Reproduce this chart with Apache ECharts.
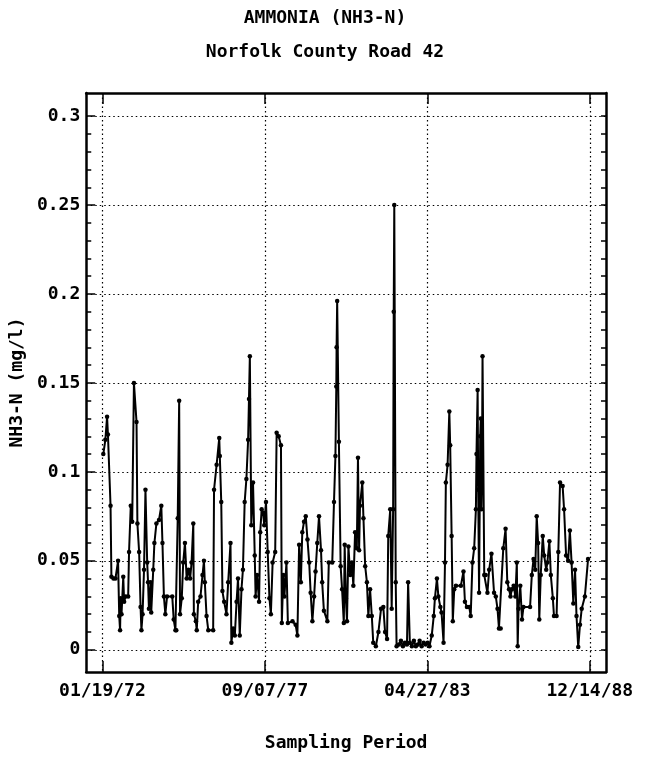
<!DOCTYPE html>
<html>
<head>
<meta charset="utf-8">
<title>AMMONIA (NH3-N)</title>
<script src="https://cdn.jsdelivr.net/npm/echarts@6/dist/echarts.min.js"></script>
<style>
  html, body { margin: 0; padding: 0; background: #fff; }
  #chart { width: 650px; height: 757px; }
</style>
</head>
<body>
<div id="chart"></div>
<script>
// sample dates as decimal years
const sampleYears = [
  1972.08, 1972.15, 1972.21, 1972.24, 1972.33, 1972.36, 1972.43, 1972.50, 1972.59, 1972.63,
  1972.66, 1972.68, 1972.71, 1972.77, 1972.80, 1972.85, 1972.94, 1972.97, 1973.03, 1973.08,
  1973.14, 1973.23, 1973.26, 1973.32, 1973.37, 1973.40, 1973.44, 1973.49, 1973.54, 1973.60,
  1973.63, 1973.66, 1973.72, 1973.74, 1973.81, 1973.85, 1973.92, 1974.01, 1974.09, 1974.13,
  1974.18, 1974.23, 1974.29, 1974.47, 1974.52, 1974.58, 1974.61, 1974.66, 1974.71,
  1974.74, 1974.80, 1974.85, 1974.91, 1974.97, 1975.03, 1975.09, 1975.14, 1975.20, 1975.22,
  1975.29, 1975.32, 1975.37, 1975.45, 1975.52, 1975.57, 1975.60, 1975.66, 1975.72, 1975.89,
  1975.92, 1976.01, 1976.10, 1976.12, 1976.17, 1976.21, 1976.27, 1976.35, 1976.41, 1976.49,
  1976.52, 1976.58, 1976.64, 1976.70, 1976.75, 1976.81, 1976.87, 1976.92, 1976.98, 1977.04,
  1977.10, 1977.13, 1977.16, 1977.21, 1977.27, 1977.33, 1977.36, 1977.41, 1977.48, 1977.52,
  1977.57,
  1977.62, 1977.66, 1977.72, 1977.78, 1977.84, 1977.89, 1977.95, 1978.04, 1978.09, 1978.16,
  1978.24, 1978.27, 1978.32, 1978.36, 1978.43, 1978.48, 1978.64, 1978.75, 1978.81, 1978.87,
  1978.93, 1978.98, 1979.04, 1979.10, 1979.16, 1979.22, 1979.27, 1979.33, 1979.39, 1979.44,
  1979.50, 1979.56, 1979.63, 1979.67, 1979.73, 1979.85, 1979.90, 1980.02, 1980.08, 1980.13,
  1980.16, 1980.17, 1980.19, 1980.25, 1980.31, 1980.36, 1980.42,
  1980.45, 1980.49, 1980.53, 1980.58, 1980.64, 1980.70, 1980.75, 1980.81, 1980.87, 1980.91,
  1980.95, 1980.98, 1981.06, 1981.10, 1981.16, 1981.22, 1981.27, 1981.33, 1981.39, 1981.44,
  1981.53, 1981.62, 1981.71, 1981.79, 1981.85, 1981.92, 1981.96, 1982.03, 1982.08, 1982.13,
  1982.15, 1982.17, 1982.22, 1982.25, 1982.33, 1982.40, 1982.47, 1982.54, 1982.61, 1982.65,
  1982.71, 1982.78, 1982.85, 1982.92, 1982.99, 1983.05, 1983.12, 1983.19, 1983.26, 1983.33,
  1983.39, 1983.47, 1983.54, 1983.58, 1983.65, 1983.70, 1983.77, 1983.81, 1983.88, 1983.93,
  1983.96, 1984.02, 1984.08, 1984.11, 1984.16, 1984.20, 1984.25, 1984.31, 1984.48, 1984.57,
  1984.62, 1984.69, 1984.77, 1984.82, 1984.88, 1984.94, 1985.00, 1985.02, 1985.06, 1985.08,
  1985.11, 1985.15, 1985.17, 1985.19, 1985.21, 1985.23, 1985.29, 1985.34, 1985.40, 1985.46,
  1985.54, 1985.63, 1985.69, 1985.75, 1985.80, 1985.86, 1985.95, 1986.03, 1986.09, 1986.15,
  1986.20,
  1986.25, 1986.31, 1986.37, 1986.42, 1986.45, 1986.48, 1986.54, 1986.60, 1986.65, 1986.88,
  1986.94, 1987.00, 1987.06, 1987.11, 1987.16, 1987.20, 1987.25, 1987.32, 1987.37, 1987.44,
  1987.48, 1987.55, 1987.60, 1987.67, 1987.71, 1987.80, 1987.86, 1987.92, 1988.01, 1988.06,
  1988.13, 1988.20, 1988.26, 1988.32, 1988.38, 1988.44, 1988.49, 1988.55, 1988.61, 1988.67,
  1988.78, 1988.89
];

// NH3-N in mg/l
const nh3Values = [
  0.110, 0.118, 0.131, 0.121, 0.081, 0.041, 0.040, 0.040, 0.050, 0.019,
  0.011, 0.029, 0.020, 0.041, 0.027, 0.030, 0.030, 0.055, 0.081, 0.072,
  0.150, 0.128, 0.071, 0.055, 0.024, 0.011, 0.020, 0.045, 0.090, 0.049,
  0.038, 0.023, 0.038, 0.021, 0.045, 0.060, 0.071, 0.073, 0.081, 0.060,
  0.030, 0.020, 0.030, 0.030, 0.017, 0.011, 0.011, 0.074, 0.140,
  0.020, 0.029, 0.049, 0.060, 0.040, 0.045, 0.040, 0.049, 0.071, 0.020,
  0.016, 0.011, 0.027, 0.030, 0.042, 0.050, 0.038, 0.019, 0.011, 0.011,
  0.090, 0.104, 0.119, 0.109, 0.083, 0.033, 0.027, 0.020, 0.038, 0.060,
  0.004, 0.012, 0.008, 0.027, 0.040, 0.008, 0.034, 0.045, 0.083, 0.096,
  0.118, 0.141, 0.165, 0.070, 0.094, 0.053, 0.030, 0.042, 0.027, 0.066,
  0.079,
  0.077, 0.070, 0.083, 0.055, 0.029, 0.020, 0.049, 0.055, 0.122, 0.120,
  0.115, 0.015, 0.042, 0.030, 0.049, 0.015, 0.016, 0.014, 0.008, 0.059,
  0.038, 0.066, 0.072, 0.075, 0.062, 0.049, 0.032, 0.016, 0.030, 0.044,
  0.060, 0.075, 0.056, 0.038, 0.022, 0.016, 0.049, 0.049, 0.083, 0.109,
  0.148, 0.170, 0.196, 0.117, 0.047, 0.034, 0.015,
  0.059, 0.029, 0.016, 0.058, 0.042, 0.049, 0.036, 0.066, 0.057, 0.108,
  0.056, 0.081, 0.094, 0.074, 0.047, 0.038, 0.019, 0.034, 0.019, 0.004,
  0.002, 0.010, 0.023, 0.024, 0.010, 0.006, 0.064, 0.079, 0.023, 0.079,
  0.190, 0.250, 0.038, 0.002, 0.003, 0.005, 0.002, 0.004, 0.003, 0.038,
  0.004, 0.002, 0.005, 0.002, 0.003, 0.005, 0.002, 0.004, 0.003, 0.004,
  0.002, 0.008, 0.019, 0.029, 0.040, 0.030, 0.024, 0.021, 0.004, 0.049,
  0.094, 0.104, 0.134, 0.115, 0.064, 0.016, 0.034, 0.036, 0.036, 0.044,
  0.027, 0.024, 0.024, 0.019, 0.049, 0.057, 0.079, 0.110, 0.146, 0.090,
  0.032, 0.120, 0.130, 0.079, 0.100, 0.165, 0.042, 0.042, 0.032, 0.045,
  0.054, 0.032, 0.030, 0.023, 0.012, 0.012, 0.057, 0.068, 0.038, 0.034,
  0.030,
  0.034, 0.036, 0.030, 0.049, 0.002, 0.023, 0.036, 0.017, 0.024, 0.024,
  0.042, 0.051, 0.045, 0.075, 0.060, 0.017, 0.042, 0.064, 0.053, 0.045,
  0.049, 0.061, 0.042, 0.029, 0.019, 0.019, 0.055, 0.094, 0.092, 0.079,
  0.053, 0.050, 0.067, 0.049, 0.026, 0.045, 0.019, 0.0015, 0.014, 0.023,
  0.030, 0.051
];

const tickDates = ["1972-01-19", "1977-09-07", "1983-04-27", "1988-12-14"];
const yTickLabels = [0, 0.05, 0.1, 0.15, 0.2, 0.25, 0.3];

const DAY = 86400000;
const FONT = "DejaVu Sans Mono";

function yearToMs(d) {
  let y = Math.floor(d);
  let s = Date.UTC(y, 0, 1);
  let e = Date.UTC(y + 1, 0, 1);
  return s + (d - y) * (e - s);
}
function dateToMs(str) {
  let p = str.split("-");
  return Date.UTC(+p[0], +p[1] - 1, +p[2]);
}
function pad(n) {
  return (n < 10 ? "0" : "") + n;
}
function fmtDate(ms) {
  let d = new Date(ms);
  return pad(d.getUTCMonth() + 1) + "/" + pad(d.getUTCDate()) + "/" + pad(d.getUTCFullYear() % 100);
}

let tickMs = tickDates.map(dateToMs);
let xMin = tickMs[0] - 205 * DAY;
let xMax = tickMs[tickMs.length - 1] + 205 * DAY;
let yMin = -0.0125;
let yMax = 0.313;

// minor ticks every 0.01
let yMinorTicks = [];
for (let i = 0; i <= 30; i++) yMinorTicks.push(i / 100);

let seriesData = sampleYears.map((y, i) => [yearToMs(y), nh3Values[i]]);

let labelStyle = {
  fontFamily: FONT,
  fontSize: 18,
  fontWeight: "bold",
  color: "#000",
};
let borderLine = { show: true, onZero: false, lineStyle: { color: "#000", width: 2.5 } };
let gridDots = { show: true, lineStyle: { color: "#000", width: 1.2, type: [1.5, 3] } };
let tickLine = { color: "#000", width: 1.5 };

let chart = echarts.init(document.getElementById("chart"), null, { renderer: "canvas" });
let option = {
  animation: false,
  backgroundColor: "#fff",
  title: [
    {
      text: "AMMONIA (NH3-N)",
      left: "center",
      top: 9,
      padding: 0,
      textStyle: { ...labelStyle },
    },
    {
      text: "Norfolk County Road 42",
      left: "center",
      top: 43,
      padding: 0,
      textStyle: { ...labelStyle },
    },
  ],
  grid: {
    left: 82,
    right: 44,
    top: 93,
    bottom: 84,
  },
  xAxis: [
    {
      type: "value",
      position: "bottom",
      min: xMin,
      max: xMax,
      axisLine: borderLine,
      axisTick: { show: true, inside: true, length: 11, customValues: tickMs, lineStyle: tickLine },
      axisLabel: { ...labelStyle, margin: 10, customValues: tickMs, formatter: (v) => fmtDate(v) },
      splitLine: gridDots,
      name: "Sampling Period",
      nameLocation: "middle",
      nameGap: 62,
      nameTextStyle: { ...labelStyle },
    },
    {
      type: "value",
      position: "top",
      min: xMin,
      max: xMax,
      axisLine: borderLine,
      axisTick: { show: true, inside: true, length: 11, customValues: tickMs, lineStyle: tickLine },
      axisLabel: { show: false },
      splitLine: { show: false },
    },
  ],
  yAxis: [
    {
      type: "value",
      position: "left",
      min: yMin,
      max: yMax,
      axisLine: borderLine,
      axisTick: { show: true, inside: true, length: 5, customValues: yMinorTicks, lineStyle: tickLine },
      axisLabel: { ...labelStyle, margin: 6, customValues: yTickLabels, formatter: (v) => String(v) },
      splitLine: { show: false },
      name: "NH3-N (mg/l)",
      nameLocation: "middle",
      nameGap: 57,
      nameTextStyle: { ...labelStyle },
    },
    {
      type: "value",
      position: "right",
      min: yMin,
      max: yMax,
      axisLine: borderLine,
      axisTick: { show: true, inside: true, length: 5, customValues: yMinorTicks, lineStyle: tickLine },
      axisLabel: { show: false },
      splitLine: { show: false },
    },
    {
      type: "value",
      position: "left",
      min: yMin,
      max: yMax,
      axisLine: { show: false, onZero: false },
      axisTick: { show: true, inside: true, length: 9, customValues: yTickLabels, lineStyle: tickLine },
      axisLabel: { show: false },
      splitLine: gridDots,
    },
  ],
  series: [
    {
      type: "line",
      xAxisIndex: 0,
      yAxisIndex: 0,
      data: seriesData,
      symbol: "circle",
      symbolSize: 4.5,
      showSymbol: true,
      lineStyle: { color: "#000", width: 2 },
      itemStyle: { color: "#000" },
      z: 5,
    },
  ],
};
chart.setOption(option);
</script>
</body>
</html>
